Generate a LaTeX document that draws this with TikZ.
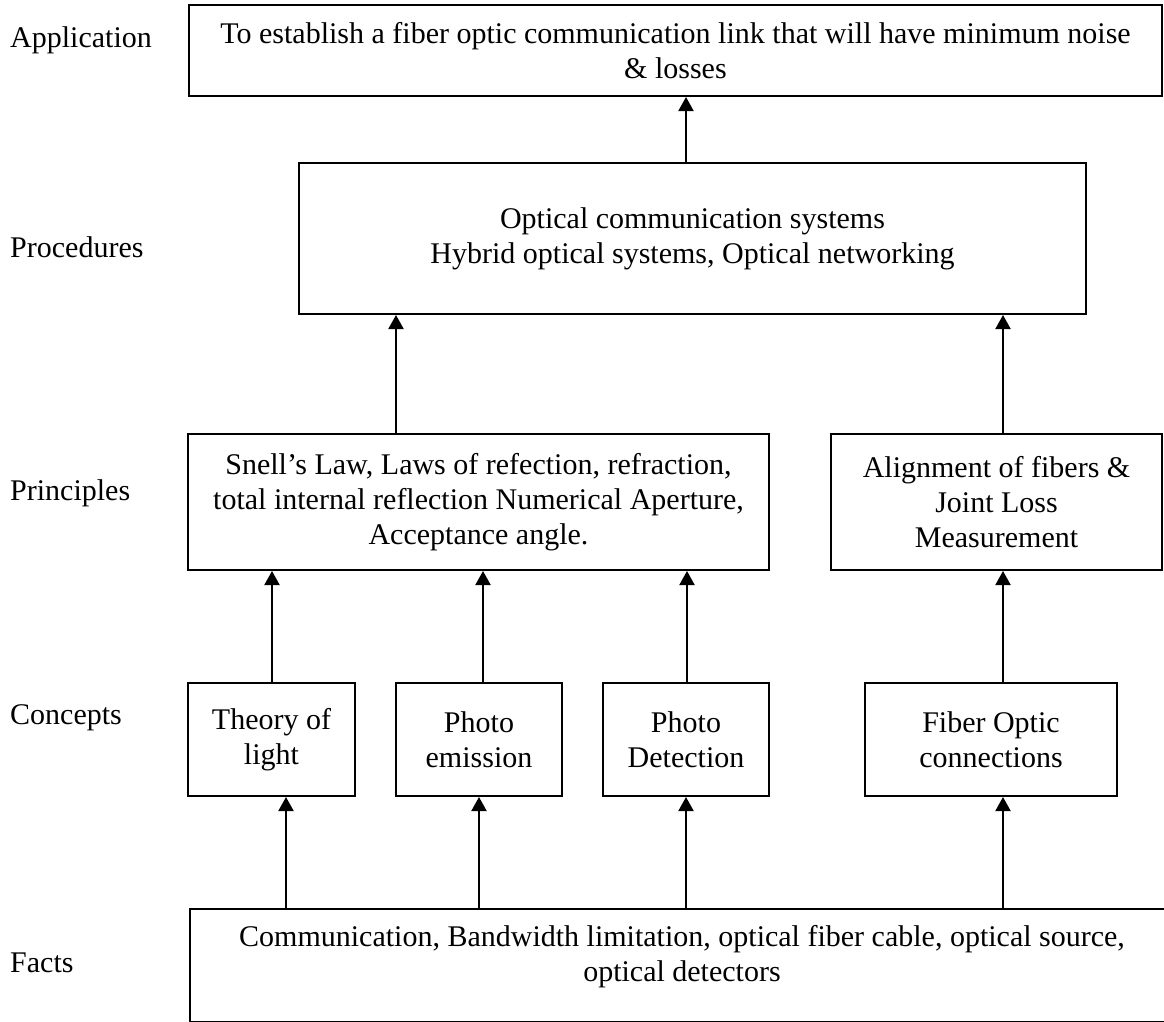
\documentclass[tikz,border=0pt]{standalone}
\usepackage{fontspec}
\setmainfont{Liberation Serif}
\usetikzlibrary{arrows.meta}

\begin{document}
\begin{tikzpicture}[x=1pt, y=-1pt, >={Triangle[length=14pt,width=15pt]},
  every node/.style={font=\fontsize{30}{35}\selectfont, inner sep=0pt},
  box/.style={draw, rectangle, line width=2pt, align=center},
  lvl/.style={anchor=base west}]
  \useasboundingbox (0,0) rectangle (1164,1021);

  %% level names on the left
  \node (lapp)  at (10,47)  [lvl] {Application};
  \node (lproc) at (10,257) [lvl] {Procedures};
  \node (lprin) at (10,500) [lvl] {Principles};
  \node (lcon)  at (10,724) [lvl] {Concepts};
  \node (lfact) at (10,972) [lvl] {Facts};

  \node (app) at (675.5,50.5) [box, minimum width=973pt, minimum height=91pt]
    {To establish a fiber optic communication link that will have minimum noise\\ \& losses};
  \node (proc) at (692.5,238.5) [box, minimum width=787pt, minimum height=151pt]
    {Optical communication systems\\Hybrid optical systems, Optical networking};
  \node (snell) at (478.5,502) [box, minimum width=581pt, minimum height=136pt]
    {Snell’s Law, Laws of refection, refraction,\\total internal reflection Numerical Aperture,\\Acceptance angle.};
  \node (align) at (996.5,502) [box, minimum width=331pt, minimum height=136pt]
    {Alignment of fibers \&\\Joint Loss\\Measurement};
  \node (light) at (271.5,739.5) [box, minimum width=167pt, minimum height=113pt] {Theory of\\light};
  \node (emis) at (479,739.5) [box, minimum width=166pt, minimum height=113pt] {Photo\\emission};
  \node (detect) at (686,739.5) [box, minimum width=166pt, minimum height=113pt] {Photo\\Detection};
  \node (conn) at (991,739.5) [box, minimum width=252pt, minimum height=113pt] {Fiber Optic\\connections};

  %% facts box runs off the page
  \node (facts) at (189,908) [box, anchor=north west, minimum width=990pt, minimum height=113pt] {};
  \node (factstxt) at (682,957) [align=center]
    {Communication, Bandwidth limitation, optical fiber cable, optical source,\\optical detectors};

  %% where the arrows stand
  \coordinate (a1) at (286,0);
  \coordinate (a2) at (479,0);
  \coordinate (a3) at (686,0);
  \coordinate (a4) at (1003,0);
  \coordinate (b1) at (272,0);
  \coordinate (b2) at (483,0);
  \coordinate (b3) at (687,0);
  \coordinate (c1) at (396,0);

  \draw[->, line width=2pt] (facts.north -| a1) to (light.south -| a1);
  \draw[->, line width=2pt] (facts.north -| a2) to (emis.south -| a2);
  \draw[->, line width=2pt] (facts.north -| a3) to (detect.south -| a3);
  \draw[->, line width=2pt] (facts.north -| a4) to (conn.south -| a4);

  \draw[->, line width=2pt] (light.north -| b1) to (snell.south -| b1);
  \draw[->, line width=2pt] (emis.north -| b2) to (snell.south -| b2);
  \draw[->, line width=2pt] (detect.north -| b3) to (snell.south -| b3);
  \draw[->, line width=2pt] (conn.north -| a4) to (align.south -| a4);

  \draw[->, line width=2pt] (snell.north -| c1) to (proc.south -| c1);
  \draw[->, line width=2pt] (align.north -| a4) to (proc.south -| a4);
  \draw[->, line width=2pt] (proc.north -| a3) to (app.south -| a3);
\end{tikzpicture}
\end{document}
